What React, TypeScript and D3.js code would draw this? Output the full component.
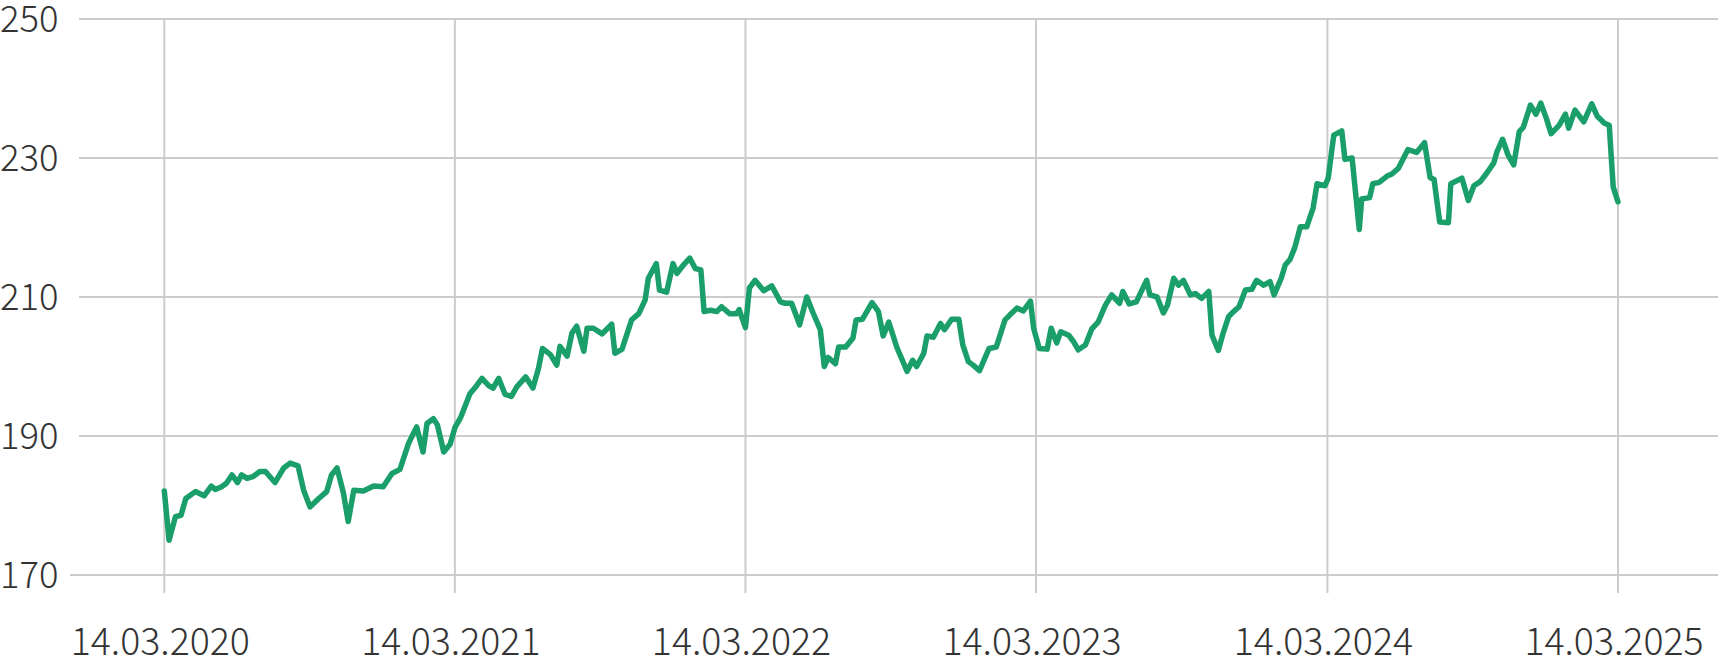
import React from "react";
import * as d3 from "d3";

// Days since 14.03.2020 for each observation, and the matching values
const startDate = "2020-03-14";
const days = [
  0, 6, 14, 21, 27, 39, 50, 59, 64, 72, 78, 85, 92, 97, 104, 112, 120, 127, 139, 150,
  158, 168, 175, 183, 194, 204, 210, 217, 225, 231, 238, 250, 263, 275, 286, 296, 307, 317, 325, 330,
  338, 343, 351, 359, 365, 372,
  384, 390, 399, 407, 413, 420, 428, 436, 443, 454, 463, 470, 475, 485, 493, 497, 506, 512, 518, 527,
  531, 539, 550, 562, 566, 575, 587, 596, 604, 608, 618, 622, 631, 639, 644, 652, 660, 667, 674, 678,
  686, 694, 700, 710, 719, 722, 730, 735,
  742, 753, 763, 774, 780, 788, 798, 807, 815, 824, 829, 834, 843, 847, 856, 865, 869, 877, 889, 897,
  903, 910, 920, 933, 940, 945, 954, 958, 966, 975, 980, 989, 998, 1003, 1010, 1016, 1024, 1036, 1045, 1056,
  1062, 1071, 1079, 1088, 1092, 1099,
  1109, 1114, 1121, 1126, 1136, 1142, 1148, 1157, 1165, 1173, 1182, 1190, 1200, 1204, 1212, 1221, 1228, 1234, 1238, 1247,
  1255, 1260, 1268, 1274, 1280, 1289, 1295, 1303, 1312, 1316, 1324, 1330, 1337, 1343, 1350, 1358, 1366, 1372, 1381, 1389,
  1394, 1403, 1408, 1414, 1420, 1427, 1435, 1443, 1448, 1458, 1462, 1469,
  1479, 1483, 1492, 1501, 1504, 1514, 1518, 1526, 1536, 1542, 1550, 1562, 1573, 1583, 1590, 1595, 1602, 1613, 1616, 1630,
  1638, 1645, 1653, 1661, 1670, 1674, 1681, 1688, 1695, 1702, 1707, 1716, 1723, 1729, 1736, 1742, 1752, 1760, 1764, 1772,
  1783, 1793, 1800, 1809, 1815, 1820, 1826,
];
const values = [
  182.1, 175.0, 178.4, 178.6, 181.0, 182.0, 181.4, 182.8, 182.3, 182.7, 183.2, 184.4, 183.3, 184.4, 183.9, 184.2, 184.9, 184.9, 183.3, 185.4,
  186.1, 185.7, 182.2, 179.8, 181.0, 182.0, 184.4, 185.4, 181.8, 177.7, 182.2, 182.1, 182.8, 182.7, 184.6, 185.2, 189.0, 191.3, 187.7, 191.8,
  192.5, 191.6, 187.7, 188.8, 191.2, 192.6,
  196.1, 196.9, 198.3, 197.3, 196.9, 198.3, 196.0, 195.7, 197.1, 198.5, 196.9, 199.7, 202.6, 201.7, 200.2, 202.9, 201.5, 204.8, 205.8, 202.2,
  205.5, 205.5, 204.7, 206.1, 201.9, 202.5, 206.7, 207.6, 209.6, 212.7, 214.8, 211.0, 210.7, 214.8, 213.4, 214.6, 215.6, 214.1, 213.9, 207.9,
  208.1, 207.9, 208.6, 207.6, 207.6, 208.2, 205.6, 211.3,
  212.4, 210.9, 211.6, 209.3, 209.1, 209.1, 206.0, 210.0, 207.7, 205.3, 200.0, 201.3, 200.4, 202.8, 202.8, 204.1, 206.7, 206.8, 209.2, 207.9,
  204.4, 206.4, 202.8, 199.3, 200.9, 200.0, 201.9, 204.4, 204.2, 206.2, 205.3, 206.8, 206.8, 203.1, 200.7, 200.2, 199.4, 202.6, 202.8, 206.7,
  207.4, 208.4, 208.0, 209.4, 205.5, 202.6,
  202.5, 205.5, 203.4, 205.0, 204.5, 203.6, 202.4, 203.1, 205.4, 206.4, 208.8, 210.3, 209.1, 210.8, 209.0, 209.3, 211.0, 212.4, 210.3, 210.0,
  207.7, 208.8, 212.7, 211.7, 212.4, 210.3, 210.5, 209.8, 210.8, 204.5, 202.3, 204.8, 207.2, 207.9, 208.6, 211.0, 211.1, 212.4, 211.7, 212.2,
  210.3, 212.7, 214.6, 215.4, 217.1, 220.1, 220.1, 222.8, 226.3, 226.0, 227.1, 233.3,
  233.9, 229.8, 230.0, 219.7, 224.1, 224.3, 226.3, 226.5, 227.4, 227.7, 228.5, 231.2, 230.8, 232.2, 227.2, 226.9, 220.8, 220.7, 226.3, 227.1,
  223.9, 226.0, 226.6, 227.8, 229.3, 230.9, 232.7, 230.4, 229.0, 233.8, 234.4, 237.6, 236.3, 237.9, 235.7, 233.5, 234.7, 236.3, 234.3, 236.9,
  235.2, 237.8, 236.0, 235.0, 234.7, 225.8, 223.7,
];
const yTicks = [170, 190, 210, 230, 250];
const xTickDates = ["2020-03-14", "2021-03-14", "2022-03-14", "2023-03-14", "2024-03-14", "2025-03-14"];

const W = 1718;
const H = 658;
const FONT = "'Noto Sans CJK SC', 'Noto Sans', sans-serif";

export default function App() {
  const parse = d3.utcParse("%Y-%m-%d");
  const start = parse(startDate) as Date;
  const data = days.map((d, i) => ({ date: d3.utcDay.offset(start, d), value: values[i] }));
  const tickDates = xTickDates.map((s) => parse(s) as Date);

  const x = d3
    .scaleUtc()
    .domain([tickDates[0], tickDates[tickDates.length - 1]])
    .range([164.3, 1618]);
  const y = d3.scaleLinear().domain([170, 250]).range([575, 19]);

  const line = d3
    .line<{ date: Date; value: number }>()
    .x((d) => x(d.date))
    .y((d) => y(d.value));

  const fmt = d3.utcFormat("%d.%m.%Y");

  return (
    <div style={{ position: "absolute", left: 0, top: 0 }}>
      <svg width={W} height={H} style={{ display: "block" }}>
        <rect width={W} height={H} fill="#fff" />
        {yTicks.map((t) => (
          <line
            key={"h" + t}
            x1={t === 170 ? 70 : 79}
            x2={W}
            y1={y(t)}
            y2={y(t)}
            stroke="#cccccc"
            strokeWidth={2}
          />
        ))}
        {tickDates.map((d, i) => (
          <line
            key={"v" + i}
            x1={x(d)}
            x2={x(d)}
            y1={y(250)}
            y2={593}
            stroke="#cccccc"
            strokeWidth={2}
          />
        ))}
        {yTicks.map((t) => (
          <text
            key={"yl" + t}
            x={0}
            y={y(t) + 13.2}
            fontFamily={FONT}
            fontWeight={300}
            fontSize={36.5}
            fill="#333"
          >
            {t}
          </text>
        ))}
        {tickDates.map((d, i) => (
          <text
            key={"xl" + i}
            x={x(d) - 4}
            y={655}
            textAnchor="middle"
            fontFamily={FONT}
            fontWeight={300}
            fontSize={37.5}
            fill="#333"
          >
            {fmt(d)}
          </text>
        ))}
        <path
          d={line(data) || ""}
          fill="none"
          stroke="#1a9e6a"
          strokeWidth={5.5}
          strokeLinejoin="round"
          strokeLinecap="round"
        />
      </svg>
    </div>
  );
}
